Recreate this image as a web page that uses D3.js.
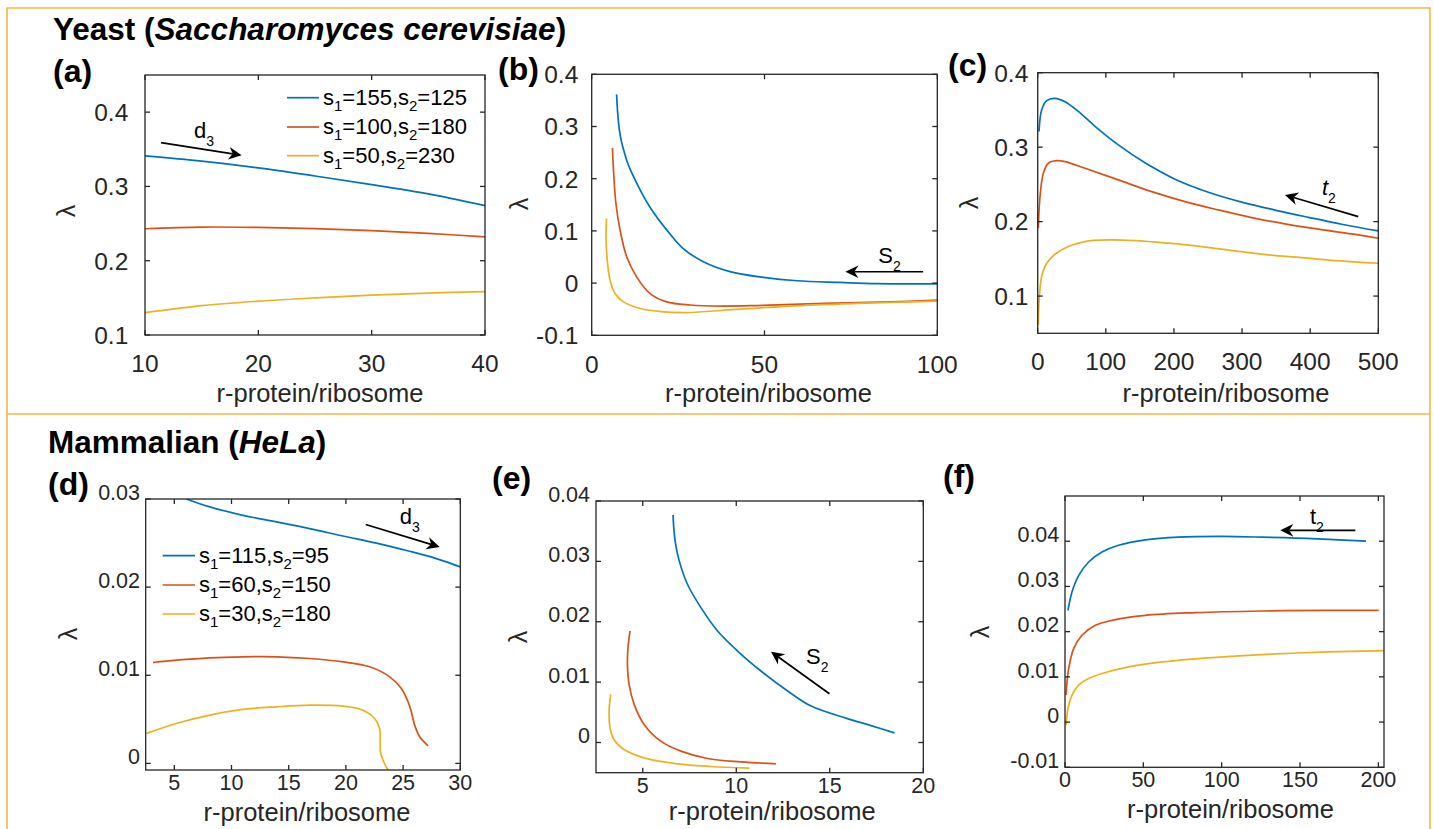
<!DOCTYPE html>
<html>
<head>
<meta charset="utf-8">
<script src="https://cdn.jsdelivr.net/npm/d3@7"></script>
<style>
  body { margin: 0; background: #fff; }
  svg { display: block; font-family: "Liberation Sans", Arial, Helvetica, sans-serif; }
</style>
</head>
<body>
<svg id="chart" width="1434" height="829"></svg>
<script>
// ---- values ----
const yeastS1 = [155, 100, 50]
const yeastS2 = [125, 180, 230]
const helaS1 = [115, 60, 30]
const helaS2 = [95, 150, 180]

// (a) yeast, varying d3
const aXDomain = [10, 40]
const aYDomain = [0.1, 0.45]
const aXTicks = [10, 20, 30, 40]
const aYTicks = [0.1, 0.2, 0.3, 0.4]
const aBlue = [[10,0.341],[15,0.334],[20,0.325],[25,0.314],[30,0.3025],[35,0.290],[40,0.274]]
const aRed = [[10,0.243],[15,0.2453],[20,0.2448],[25,0.2432],[30,0.2405],[35,0.2368],[40,0.232]]
const aYellow = [[10,0.130],[15,0.1395],[20,0.1455],[25,0.150],[30,0.1538],[35,0.1565],[40,0.1585]]

// (b) yeast, varying s2
const bXDomain = [0, 100]
const bYDomain = [-0.1, 0.4]
const bXTicks = [0, 50, 100]
const bYTicks = [-0.1, 0, 0.1, 0.2, 0.3, 0.4]
const bBlue = [[7.2,0.3615],[7.52,0.326],[8.0,0.294],[8.58,0.272],[9.2,0.256],[10.3,0.232],[11.6,0.211],[14.5,0.1725],[17.4,0.140],[21.7,0.102],[26.5,0.066],[32.3,0.041],[40.0,0.022],[49.7,0.011],[59.4,0.0045],[71.9,0.0013],[82.5,-0.001],[100,-0.0015]]
const bRed = [[6.0,0.259],[6.3,0.217],[7.0,0.153],[8.2,0.102],[10.1,0.051],[13.0,0.012],[16.9,-0.020],[21.7,-0.036],[28.5,-0.042],[38.1,-0.044],[47.8,-0.043],[67.1,-0.039],[86.4,-0.036],[100,-0.0327]]
const bYellow = [[4.3,0.124],[4.15,0.089],[4.5,0.044],[5.3,0.006],[6.75,-0.020],[9.2,-0.036],[14.0,-0.0487],[20.7,-0.055],[27.5,-0.0564],[38.1,-0.052],[57.4,-0.044],[76.7,-0.039],[100,-0.0346]]

// (c) yeast, varying t2
const cXDomain = [0, 500]
const cYDomain = [0.05, 0.4]
const cXTicks = [0, 100, 200, 300, 400, 500]
const cYTicks = [0.1, 0.2, 0.3, 0.4]
const cBlue = [[1.9,0.321],[5.8,0.350],[13.2,0.3625],[25.4,0.3656],[40.1,0.361],[59.6,0.348],[84.1,0.328],[118.4,0.303],[157.5,0.279],[201.6,0.257],[250.5,0.2395],[299.5,0.2262],[348.4,0.2155],[397.3,0.2058],[446.2,0.1965],[500,0.1875]]
const cRed = [[0.9,0.191],[3.4,0.2336],[8.3,0.265],[15.6,0.2784],[27.8,0.2819],[40.1,0.2806],[69.4,0.2716],[118.4,0.256],[167.3,0.2403],[216.2,0.2269],[265.1,0.2157],[314.1,0.2054],[363,0.1969],[411.9,0.1898],[460.9,0.1835],[500,0.1777]]
const cYellow = [[0.9,0.0613],[1.9,0.0905],[5.8,0.1262],[13.2,0.1441],[25.4,0.1562],[45,0.1665],[69.4,0.1732],[103.7,0.1754],[142.8,0.1745],[191.8,0.171],[240.7,0.1665],[289.6,0.1607],[338.6,0.1553],[387.6,0.1517],[436.5,0.1477],[500,0.1441]]

// (d) HeLa, varying d3
const dXDomain = [2.5, 30]
const dYDomain = [-0.00075, 0.03]
const dXTicks = [5, 10, 15, 20, 25, 30]
const dYTicks = [0, 0.01, 0.02, 0.03]
const dBlue = [[6.05,0.0300],[8.09,0.0291],[11.0,0.02815],[13.92,0.0274],[16.83,0.02664],[19.75,0.0258],[22.66,0.0250],[25.57,0.02407],[27.9,0.02324],[30,0.0223]]
const dRed = [[3.14,0.01145],[5.18,0.01171],[8.09,0.01198],[11.0,0.01209],[13.92,0.01209],[16.83,0.0119],[19.75,0.01152],[22.08,0.01096],[23.83,0.00982],[24.85,0.0085],[25.43,0.00699],[25.72,0.00585],[26.01,0.00434],[26.45,0.00302],[27.18,0.0020]]
const dYellow = [[2.56,0.0034],[5.18,0.00453],[8.09,0.00548],[11.0,0.00612],[13.92,0.00642],[16.83,0.00661],[19.75,0.0065],[21.49,0.00604],[22.51,0.0051],[22.95,0.00396],[23.0,0.00245],[23.02,0.00132],[23.24,0.00037],[23.68,-0.00076]]

// (e) HeLa, varying s2
const eXDomain = [2.5, 20]
const eYDomain = [-0.005, 0.04]
const eXTicks = [5, 10, 15, 20]
const eYTicks = [0, 0.01, 0.02, 0.03, 0.04]
const eBlue = [[6.62,0.0377],[6.66,0.0355],[6.75,0.0330],[6.95,0.03008],[7.39,0.02621],[8.11,0.02234],[9.0,0.01847],[10.07,0.01515],[11.32,0.01184],[12.75,0.00852],[14.0,0.00603],[15.9,0.0040],[17.2,0.0028],[18.46,0.0016]]
const eRed = [[4.32,0.01847],[4.21,0.0157],[4.18,0.01294],[4.27,0.00962],[4.54,0.00631],[5.07,0.00299],[5.96,0.00023],[7.04,-0.00143],[8.46,-0.00265],[10.25,-0.0032],[12.12,-0.00353]]
const eYellow = [[3.29,0.00797],[3.2,0.0052],[3.25,0.00244],[3.46,0.0005],[4.0,-0.00116],[5.07,-0.00254],[6.86,-0.00353],[8.64,-0.00397],[10.7,-0.00425]]

// (f) HeLa, varying t2
const fXDomain = [0, 203.6]
const fYDomain = [-0.01, 0.05]
const fXTicks = [0, 50, 100, 150, 200]
const fYTicks = [-0.01, 0, 0.01, 0.02, 0.03, 0.04]
const fBlue = [[1.9,0.0247],[4.5,0.0288],[8.7,0.0324],[15.1,0.0354],[23.6,0.0376],[34.2,0.0391],[51.3,0.0403],[72.5,0.0409],[100.2,0.04105],[125.7,0.0409],[147,0.0407],[168.3,0.0404],[192.1,0.0400]]
const fRed = [[0.64,0.006],[2.34,0.0118],[5.53,0.01625],[10.85,0.0192],[19.36,0.0214],[30.0,0.0225],[51.3,0.0236],[83.2,0.0242],[125.7,0.02457],[168.3,0.0247],[200.2,0.0247]]
const fYellow = [[0.64,-0.0007],[1.9,0.0030],[4.47,0.00595],[8.72,0.00816],[15.1,0.00963],[23.6,0.01074],[40.6,0.01221],[61.9,0.01331],[93.8,0.01427],[125.7,0.01493],[168.3,0.01552],[204,0.0158]]

// arrow annotations in data units: [x1, y1, x2, y2], labels [x, y]
const aArrow = [11.41, 0.359, 18.53, 0.342], aNote = [14.32, 0.365]
const bArrow = [95.9, 0.0217, 73.4, 0.0217], bNote = [82.9, 0.0385]
const cArrow = [470.6, 0.2067, 363, 0.2358], cNote = [417.3, 0.2352]
const dArrow = [21.73, 0.0271, 28.2, 0.02456], dNote = [24.7, 0.0272]
const eArrow = [14.98, 0.00808, 11.86, 0.01504], eNote = [13.73, 0.01294]
const fArrow = [185.3, 0.0424, 137.4, 0.0424], fNote = [156.3, 0.04384]

// ---- layout ----
const colors = ['#0072BD', '#D95319', '#EDB120']
const axisColor = '#262626'
const frameColor = '#F6B447'

const panels = [
  {tag:'(a)', tagPos:[53,82], box:[145,75,485,335], xd:aXDomain, yd:aYDomain, xt:aXTicks, yt:aYTicks,
   series:[aBlue,aRed,aYellow], font:24.5, xTickDy:37, yTickGap:16.7, yTickDy:0, xTitle:[5,401.7], lam:[66,211],
   arrow:aArrow, note:aNote, noteParts:[['d',false],['3',true]],
   legend:{s1:yeastS1, s2:yeastS2, x1:287, x2:319, rows:[97.7,127,155.7]}},
  {tag:'(b)', tagPos:[498,80], box:[591.7,74.3,937.3,335.3], xd:bXDomain, yd:bYDomain, xt:bXTicks, yt:bYTicks,
   series:[bBlue,bRed,bYellow], font:24.5, xTickDy:38, yTickGap:13.4, yTickDy:0, xTitle:[4,401.7], lam:[519,204],
   arrow:bArrow, note:bNote, noteParts:[['S',false],['2',true]]},
  {tag:'(c)', tagPos:[948,76], box:[1037.7,72.7,1378.3,333.3], xd:cXDomain, yd:cYDomain, xt:cXTicks, yt:cYTicks,
   series:[cBlue,cRed,cYellow], font:24.5, xTickDy:36.7, yTickGap:9.4, yTickDy:0, xTitle:[18,401.7], lam:[969,203],
   arrow:cArrow, note:cNote, noteParts:[['t',false,true],['2',true]]},
  {tag:'(d)', tagPos:[48,495], box:[145.7,499,460.3,770], xd:dXDomain, yd:dYDomain, xt:dXTicks, yt:dYTicks,
   series:[dBlue,dRed,dYellow], font:21.5, xTickDy:20, yTickGap:5.7, yTickDy:-7, xTitle:[4,821], lam:[68,634],
   arrow:dArrow, note:dNote, noteParts:[['d',false],['3',true]],
   legend:{s1:helaS1, s2:helaS2, x1:162.7, x2:195, rows:[555.7,585,614]}},
  {tag:'(e)', tagPos:[492,489], box:[596,501,923.3,772.7], xd:eXDomain, yd:eYDomain, xt:eXTicks, yt:eYTicks,
   series:[eBlue,eRed,eYellow], font:21.5, xTickDy:20, yTickGap:6, yTickDy:-7, xTitle:[12.6,820], lam:[518,637],
   arrow:eArrow, note:eNote, noteParts:[['S',false],['2',true]]},
  {tag:'(f)', tagPos:[943,487], box:[1065,496,1384,767.3], xd:fXDomain, yd:fYDomain, xt:fXTicks, yt:fYTicks,
   series:[fBlue,fRed,fYellow], font:21.5, xTickDy:20, yTickGap:5.7, yTickDy:-7, xTitle:[6,818.3], lam:[980,632],
   arrow:fArrow, note:fNote, noteParts:[['t',false],['2',true]]}
]

const svg = d3.select('#chart')

// orange frame around both rows
const frame = svg.append('g').attr('stroke', frameColor).attr('stroke-width', 1.6).attr('fill', 'none')
frame.append('path').attr('d', 'M7,829 L7,8 L1430,8 L1430,829')
frame.append('line').attr('x1', 7).attr('x2', 1430).attr('y1', 414).attr('y2', 414)

// row titles
function title(x, y, plain, italic) {
  const t = svg.append('text').attr('x', x).attr('y', y)
    .attr('font-size', 31.5).attr('font-weight', 'bold').attr('fill', '#000')
  t.append('tspan').text(plain + ' (')
  t.append('tspan').attr('font-style', 'italic').text(italic)
  t.append('tspan').text(')')
}
title(53, 40, 'Yeast', 'Saccharomyces cerevisiae')
title(48, 453, 'Mammalian', 'HeLa')

// text with subscripts; parts = [[str, isSub, italic]]
function subText(g, x, y, parts, size, subSize, shift) {
  const t = g.append('text').attr('x', x).attr('y', y).attr('font-size', size).attr('fill', '#000')
  let down = false
  parts.forEach(([str, sub, ital]) => {
    const ts = t.append('tspan').text(str)
    if (ital) ts.attr('font-style', 'italic')
    if (sub) {
      ts.attr('font-size', subSize)
      if (!down) { ts.attr('dy', shift); down = true }
    } else if (down) {
      ts.attr('dy', -shift); down = false
    }
  })
  return t
}

function arrow(g, x1, y1, x2, y2) {
  const ang = Math.atan2(y2 - y1, x2 - x1)
  const len = 13, half = 6.3, notch = 9
  g.append('line')
    .attr('x1', x1).attr('y1', y1)
    .attr('x2', x2 - notch * Math.cos(ang)).attr('y2', y2 - notch * Math.sin(ang))
    .attr('stroke', '#000').attr('stroke-width', 1.7)
  g.append('path')
    .attr('d', `M0,0L${-len},${-half}L${-notch},0L${-len},${half}Z`)
    .attr('transform', `translate(${x2},${y2}) rotate(${ang * 180 / Math.PI})`)
    .attr('fill', '#000')
}

panels.forEach((p, i) => {
  const [x0, y0, x1, y1] = p.box
  const x = d3.scaleLinear().domain(p.xd).range([x0, x1])
  const y = d3.scaleLinear().domain(p.yd).range([y1, y0])
  const g = svg.append('g')

  g.append('clipPath').attr('id', 'clip' + i)
    .append('rect').attr('x', x0).attr('y', y0).attr('width', x1 - x0).attr('height', y1 - y0)

  // curves (centripetal Catmull-Rom copes with the curves that turn back on themselves)
  const line = d3.line().x(d => x(d[0])).y(d => y(d[1])).curve(d3.curveCatmullRom.alpha(0.5))
  p.series.forEach((s, k) => {
    g.append('path').datum(s)
      .attr('d', line)
      .attr('fill', 'none')
      .attr('stroke', colors[k])
      .attr('stroke-width', 1.7)
      .attr('clip-path', `url(#clip${i})`)
  })

  // box with inward ticks on all four sides (MATLAB style)
  const tl = 5
  const axes = g.append('g').attr('stroke', axisColor).attr('stroke-width', 1.3)
  axes.append('rect').attr('x', x0).attr('y', y0).attr('width', x1 - x0).attr('height', y1 - y0).attr('fill', 'none')
  p.xt.forEach(v => {
    const px = x(v)
    axes.append('line').attr('x1', px).attr('x2', px).attr('y1', y1).attr('y2', y1 - tl)
    axes.append('line').attr('x1', px).attr('x2', px).attr('y1', y0).attr('y2', y0 + tl)
  })
  p.yt.forEach(v => {
    const py = y(v)
    axes.append('line').attr('x1', x0).attr('x2', x0 + tl).attr('y1', py).attr('y2', py)
    axes.append('line').attr('x1', x1).attr('x2', x1 - tl).attr('y1', py).attr('y2', py)
  })

  // tick labels
  g.selectAll('.xl').data(p.xt).join('text')
    .attr('x', d => x(d)).attr('y', y1 + p.xTickDy)
    .attr('text-anchor', 'middle').attr('font-size', p.font).attr('fill', axisColor)
    .text(d => String(d))
  g.selectAll('.yl').data(p.yt).join('text')
    .attr('x', x0 - p.yTickGap).attr('y', d => y(d) + p.yTickDy)
    .attr('dy', '0.36em')
    .attr('text-anchor', 'end').attr('font-size', p.font).attr('fill', axisColor)
    .text(d => String(d))

  // axis titles
  g.append('text')
    .attr('x', (x0 + x1) / 2 + p.xTitle[0]).attr('y', p.xTitle[1])
    .attr('text-anchor', 'middle').attr('font-size', 25.5).attr('fill', axisColor)
    .text('r-protein/ribosome')
  g.append('text')
    .attr('transform', `translate(${p.lam[0]},${p.lam[1]}) rotate(-90)`)
    .attr('text-anchor', 'middle').attr('dy', '0.35em')
    .attr('font-size', 25).attr('fill', axisColor)
    .text('λ')

  // panel tag
  g.append('text').attr('x', p.tagPos[0]).attr('y', p.tagPos[1])
    .attr('font-size', 32).attr('font-weight', 'bold').attr('fill', '#000')
    .text(p.tag)

  // annotation arrow
  const a = p.arrow
  arrow(g, x(a[0]), y(a[1]), x(a[2]), y(a[3]))
  subText(g, x(p.note[0]), y(p.note[1]), p.noteParts, 22, 14, 8)

  // legend
  if (p.legend) {
    const L = p.legend
    L.rows.forEach((ry, k) => {
      g.append('line').attr('x1', L.x1).attr('x2', L.x2).attr('y1', ry).attr('y2', ry)
        .attr('stroke', colors[k]).attr('stroke-width', 1.7)
      subText(g, L.x2 + 4, ry + 7,
        [['s', false], ['1', true], ['=' + L.s1[k] + ',s', false], ['2', true], ['=' + L.s2[k], false]],
        22, 15, 6)
    })
  }
})
</script>
</body>
</html>
